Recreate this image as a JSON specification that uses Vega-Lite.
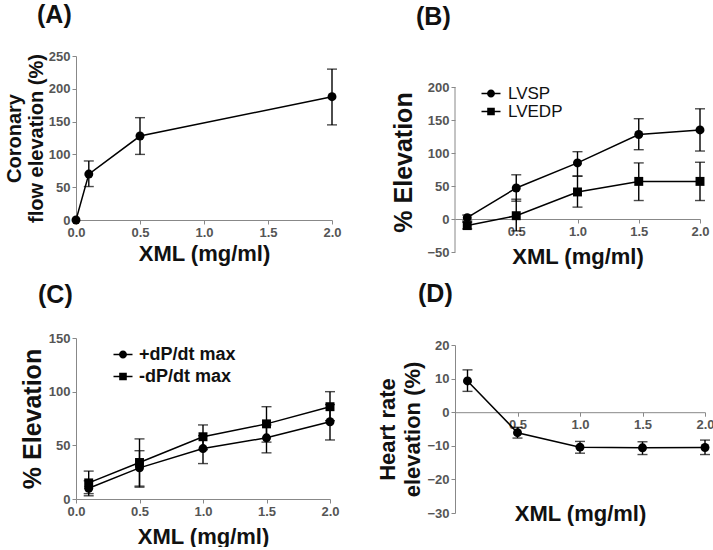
{
  "$schema": "https://vega.github.io/schema/vega-lite/v6.json",
  "padding": {"left": 4, "top": 3, "right": 0, "bottom": 0},
  "background": "white",
  "datasets": {
    "A": [
      {"series": "Flow", "x": 0, "y": 0, "lo": null, "hi": null},
      {"series": "Flow", "x": 0.1, "y": 70, "lo": 51, "hi": 90},
      {"series": "Flow", "x": 0.5, "y": 128, "lo": 100, "hi": 156},
      {"series": "Flow", "x": 2.0, "y": 188, "lo": 145, "hi": 230}
    ],
    "B": [
      {"series": "LVSP", "x": 0.1, "y": 2, "lo": -3, "hi": 6},
      {"series": "LVSP", "x": 0.5, "y": 47, "lo": 27, "hi": 67},
      {"series": "LVSP", "x": 1.0, "y": 85, "lo": 65, "hi": 102},
      {"series": "LVSP", "x": 1.5, "y": 128, "lo": 105, "hi": 152},
      {"series": "LVSP", "x": 2.0, "y": 135, "lo": 103, "hi": 167},
      {"series": "LVEDP", "x": 0.1, "y": -10, "lo": -15, "hi": -5},
      {"series": "LVEDP", "x": 0.5, "y": 5, "lo": -18, "hi": 30},
      {"series": "LVEDP", "x": 1.0, "y": 41, "lo": 18, "hi": 65},
      {"series": "LVEDP", "x": 1.5, "y": 57, "lo": 28, "hi": 85},
      {"series": "LVEDP", "x": 2.0, "y": 57, "lo": 28, "hi": 86}
    ],
    "C": [
      {"series": "+dP/dt max", "x": 0.1, "y": 10, "lo": 3, "hi": 17},
      {"series": "+dP/dt max", "x": 0.5, "y": 29, "lo": 12, "hi": 45},
      {"series": "+dP/dt max", "x": 1.0, "y": 47, "lo": 33, "hi": 59},
      {"series": "+dP/dt max", "x": 1.5, "y": 57, "lo": 43, "hi": 69},
      {"series": "+dP/dt max", "x": 2.0, "y": 72, "lo": 55, "hi": 88},
      {"series": "-dP/dt max", "x": 0.1, "y": 15, "lo": 5, "hi": 26},
      {"series": "-dP/dt max", "x": 0.5, "y": 34, "lo": 11, "hi": 56},
      {"series": "-dP/dt max", "x": 1.0, "y": 58, "lo": 46, "hi": 69},
      {"series": "-dP/dt max", "x": 1.5, "y": 70, "lo": 53, "hi": 86},
      {"series": "-dP/dt max", "x": 2.0, "y": 86, "lo": 73, "hi": 100}
    ],
    "D": [
      {"series": "HR", "x": 0.1, "y": 9.3, "lo": 6.2, "hi": 12.6},
      {"series": "HR", "x": 0.5, "y": -6.1, "lo": -7.7, "hi": -4.5},
      {"series": "HR", "x": 1.0, "y": -10.4, "lo": -12.2, "hi": -8.7},
      {"series": "HR", "x": 1.5, "y": -10.6, "lo": -12.6, "hi": -8.8},
      {"series": "HR", "x": 2.0, "y": -10.5, "lo": -12.6, "hi": -8.3}
    ]
  },
  "bounds": "full",
  "spacing": 34,
  "resolve": {"scale": {"shape": "independent"}, "legend": {"shape": "independent"}},
  "hconcat": [
    {
      "spacing": 19,
      "bounds": "full",
      "resolve": {"scale": {"shape": "independent"}, "legend": {"shape": "independent"}},
      "vconcat": [
        {
          "width": 256, "height": 164,
          "title": {"text": "(A)", "anchor": "start", "frame": "group", "dx": -39, "offset": -3, "baseline": "bottom", "fontSize": 25, "fontWeight": "bold", "font": "Liberation Sans", "color": "#111"},
          "data": {"name": "A"},
          "layer": [
            {
              "mark": {"type": "line", "color": "black", "strokeWidth": 1.5},
              "encoding": {
                "x": {"field": "x", "type": "quantitative", "scale": {"domain": [0, 2], "nice": false},
                      "axis": {"values": [0, 0.5, 1, 1.5, 2], "tickCount": 20, "format": ".1f", "labelOverlap": false, "title": "XML (mg/ml)", "titleFontSize": 22, "titlePadding": 4}},
                "y": {"field": "y", "type": "quantitative", "scale": {"domain": [0, 250], "nice": false},
                      "axis": {"values": [0, 50, 100, 150, 200, 250], "tickCount": 20, "labelOverlap": false, "title": ["Coronary", "flow elevation (%)"], "titleFontSize": 20, "titleLineHeight": 22, "titlePadding": 2}}
              }
            },
            {
              "transform": [{"filter": "isValid(datum.hi)"}],
              "mark": {"type": "errorbar", "color": "black", "ticks": {"size": 10, "thickness": 1.4}, "rule": {"strokeWidth": 1.4}},
              "encoding": {
                "x": {"field": "x", "type": "quantitative", "title": "XML (mg/ml)"},
                "y": {"field": "lo", "type": "quantitative", "title": ["Coronary", "flow elevation (%)"]},
                "y2": {"field": "hi"}
              }
            },
            {
              "mark": {"type": "point", "filled": true, "color": "black", "opacity": 1, "size": 80, "shape": "circle"},
              "encoding": {
                "x": {"field": "x", "type": "quantitative", "title": "XML (mg/ml)"},
                "y": {"field": "y", "type": "quantitative", "title": ["Coronary", "flow elevation (%)"]}
              }
            }
          ]
        },
        {
          "width": 254, "height": 161,
          "title": {"text": "(C)", "anchor": "start", "frame": "group", "dx": -38, "offset": -1, "baseline": "bottom", "fontSize": 25, "fontWeight": "bold", "font": "Liberation Sans", "color": "#111"},
          "data": {"name": "C"},
          "layer": [
            {
              "mark": {"type": "line", "color": "black", "strokeWidth": 1.5},
              "encoding": {
                "x": {"field": "x", "type": "quantitative", "scale": {"domain": [0, 2], "nice": false},
                      "axis": {"values": [0, 0.5, 1, 1.5, 2], "tickCount": 20, "format": ".1f", "labelOverlap": false, "title": "XML (mg/ml)", "titleFontSize": 22, "titlePadding": 8}},
                "y": {"field": "y", "type": "quantitative", "scale": {"domain": [0, 150], "nice": false},
                      "axis": {"values": [0, 50, 100, 150], "tickCount": 20, "labelOverlap": false, "title": "% Elevation", "titleFontSize": 25, "titlePadding": 3}},
                "detail": {"field": "series"}
              }
            },
            {
              "mark": {"type": "errorbar", "color": "black", "ticks": {"size": 10, "thickness": 1.4}, "rule": {"strokeWidth": 1.4}},
              "encoding": {
                "x": {"field": "x", "type": "quantitative", "title": "XML (mg/ml)"},
                "y": {"field": "lo", "type": "quantitative", "title": "% Elevation"},
                "y2": {"field": "hi"},
                "detail": {"field": "series"}
              }
            },
            {
              "transform": [{"filter": "datum.series == '+dP/dt max'"}],
              "mark": {"type": "point", "filled": true, "color": "black", "opacity": 1, "size": 80, "shape": "circle"},
              "encoding": {
                "x": {"field": "x", "type": "quantitative", "title": "XML (mg/ml)"},
                "y": {"field": "y", "type": "quantitative", "title": "% Elevation"}
              }
            },
            {
              "transform": [{"filter": "datum.series == '-dP/dt max'"}],
              "mark": {"type": "point", "filled": true, "color": "black", "opacity": 1, "size": 80, "shape": "square"},
              "encoding": {
                "x": {"field": "x", "type": "quantitative", "title": "XML (mg/ml)"},
                "y": {"field": "y", "type": "quantitative", "title": "% Elevation"}
              }
            },
            {
              "transform": [{"filter": "datum.x < -100"}],
              "mark": {"type": "point", "fill": "black", "stroke": "black", "strokeWidth": 0.5, "opacity": 1, "size": 361},
              "encoding": {
                "x": {"field": "x", "type": "quantitative", "title": "XML (mg/ml)"},
                "y": {"field": "y", "type": "quantitative", "title": "% Elevation"},
                "shape": {"field": "series", "type": "nominal",
                  "scale": {"domain": ["+dP/dt max", "-dP/dt max"], "range": ["M-1,-0.08L1,-0.08L1,0.08L-1,0.08Z M-0.42,0A0.42,0.42,0,1,1,0.42,0A0.42,0.42,0,1,1,-0.42,0Z", "M-1,-0.08L1,-0.08L1,0.08L-1,0.08Z M-0.4,-0.4L0.4,-0.4L0.4,0.4L-0.4,0.4Z"]},
                  "legend": {"orient": "none", "legendX": 37, "legendY": 6.5, "title": null, "padding": 0, "rowPadding": 3, "labelOffset": 6, "labelFontSize": 18, "labelFont": "Liberation Sans", "labelFontWeight": "bold", "labelColor": "#111", "symbolSize": 361, "symbolFillColor": "black", "symbolStrokeColor": "black", "symbolStrokeWidth": 0.5, "symbolOpacity": 1}}
              }
            }
          ]
        }
      ]
    },
    {
      "spacing": 15,
      "bounds": "full",
      "resolve": {"scale": {"shape": "independent"}, "legend": {"shape": "independent"}},
      "vconcat": [
        {
          "width": 245, "height": 196,
          "title": {"text": "(B)", "anchor": "start", "frame": "group", "dx": -39, "offset": 1, "baseline": "bottom", "fontSize": 25, "fontWeight": "bold", "font": "Liberation Sans", "color": "#111"},
          "data": {"name": "B"},
          "layer": [
            {
              "mark": {"type": "line", "color": "black", "strokeWidth": 1.5},
              "encoding": {
                "x": {"field": "x", "type": "quantitative", "scale": {"domain": [0, 2], "nice": false},
                      "axis": {"values": [0.5, 1, 1.5, 2], "tickCount": 20, "format": ".1f", "labelOverlap": false, "title": "XML (mg/ml)", "titleFontSize": 22, "offset": -33, "titlePadding": 8}},
                "y": {"field": "y", "type": "quantitative", "scale": {"domain": [-50, 247], "nice": false},
                      "axis": {"values": [-50, 0, 50, 100, 150, 200], "tickCount": 20, "labelOverlap": false, "domain": false, "title": "% Elevation", "titleFontSize": 25, "titlePadding": 10, "titleY": 106}},
                "detail": {"field": "series"}
              }
            },
            {
              "data": {"values": [{"a": 1}]},
              "mark": {"type": "rule", "color": "#888", "strokeWidth": 1},
              "encoding": {
                "x": {"datum": 0, "type": "quantitative"},
                "y": {"datum": -50, "type": "quantitative"},
                "y2": {"datum": 200}
              }
            },
            {
              "mark": {"type": "errorbar", "color": "black", "ticks": {"size": 10, "thickness": 1.4}, "rule": {"strokeWidth": 1.4}},
              "encoding": {
                "x": {"field": "x", "type": "quantitative", "title": "XML (mg/ml)"},
                "y": {"field": "lo", "type": "quantitative", "title": "% Elevation"},
                "y2": {"field": "hi"},
                "detail": {"field": "series"}
              }
            },
            {
              "transform": [{"filter": "datum.series == 'LVSP'"}],
              "mark": {"type": "point", "filled": true, "color": "black", "opacity": 1, "size": 80, "shape": "circle"},
              "encoding": {
                "x": {"field": "x", "type": "quantitative", "title": "XML (mg/ml)"},
                "y": {"field": "y", "type": "quantitative", "title": "% Elevation"}
              }
            },
            {
              "transform": [{"filter": "datum.series == 'LVEDP'"}],
              "mark": {"type": "point", "filled": true, "color": "black", "opacity": 1, "size": 80, "shape": "square"},
              "encoding": {
                "x": {"field": "x", "type": "quantitative", "title": "XML (mg/ml)"},
                "y": {"field": "y", "type": "quantitative", "title": "% Elevation"}
              }
            },
            {
              "transform": [{"filter": "datum.x < -100"}],
              "mark": {"type": "point", "fill": "black", "stroke": "black", "strokeWidth": 0.5, "opacity": 1, "size": 361},
              "encoding": {
                "x": {"field": "x", "type": "quantitative", "title": "XML (mg/ml)"},
                "y": {"field": "y", "type": "quantitative", "title": "% Elevation"},
                "shape": {"field": "series", "type": "nominal",
                  "scale": {"domain": ["LVSP", "LVEDP"], "range": ["M-1,-0.08L1,-0.08L1,0.08L-1,0.08Z M-0.42,0A0.42,0.42,0,1,1,0.42,0A0.42,0.42,0,1,1,-0.42,0Z", "M-1,-0.08L1,-0.08L1,0.08L-1,0.08Z M-0.4,-0.4L0.4,-0.4L0.4,0.4L-0.4,0.4Z"]},
                  "legend": {"orient": "none", "legendX": 26, "legendY": 27.5, "title": null, "padding": 0, "rowPadding": 0, "labelOffset": 7, "labelFontSize": 17, "labelFont": "Liberation Sans", "labelFontWeight": "normal", "labelColor": "#111", "symbolSize": 361, "symbolFillColor": "black", "symbolStrokeColor": "black", "symbolStrokeWidth": 0.5, "symbolOpacity": 1}}
              }
            }
          ]
        },
        {
          "width": 250, "height": 168,
          "title": {"text": "(D)", "anchor": "start", "frame": "group", "dx": -37, "offset": 7, "baseline": "bottom", "fontSize": 25, "fontWeight": "bold", "font": "Liberation Sans", "color": "#111"},
          "data": {"name": "D"},
          "layer": [
            {
              "mark": {"type": "line", "color": "black", "strokeWidth": 1.5},
              "encoding": {
                "x": {"field": "x", "type": "quantitative", "scale": {"domain": [0, 2], "nice": false},
                      "axis": {"values": [0.5, 1, 1.5, 2], "tickCount": 20, "format": ".1f", "labelOverlap": false, "title": "XML (mg/ml)", "titleFontSize": 22, "offset": -100.8, "titlePadding": 72}},
                "y": {"field": "y", "type": "quantitative", "scale": {"domain": [-30, 20], "nice": false},
                      "axis": {"values": [-30, -20, -10, 0, 10, 20], "tickCount": 20, "labelOverlap": false, "title": ["Heart rate", "elevation (%)"], "titleFontSize": 22, "titleLineHeight": 25, "titlePadding": 2}}
              }
            },
            {
              "mark": {"type": "errorbar", "color": "black", "ticks": {"size": 10, "thickness": 1.4}, "rule": {"strokeWidth": 1.4}},
              "encoding": {
                "x": {"field": "x", "type": "quantitative", "title": "XML (mg/ml)"},
                "y": {"field": "lo", "type": "quantitative", "title": ["Heart rate", "elevation (%)"]},
                "y2": {"field": "hi"}
              }
            },
            {
              "mark": {"type": "point", "filled": true, "color": "black", "opacity": 1, "size": 80, "shape": "circle"},
              "encoding": {
                "x": {"field": "x", "type": "quantitative", "title": "XML (mg/ml)"},
                "y": {"field": "y", "type": "quantitative", "title": ["Heart rate", "elevation (%)"]}
              }
            }
          ]
        }
      ]
    }
  ],
  "config": {
    "view": {"stroke": null},
    "font": "Liberation Sans",
    "axis": {
      "grid": false,
      "labelFont": "Liberation Sans",
      "labelFontWeight": "bold",
      "labelFontSize": 13,
      "labelColor": "#555",
      "labelPadding": 2,
      "labelFlush": false,
      "titleFont": "Liberation Sans",
      "titleFontWeight": "bold",
      "titleColor": "#111",
      "domainColor": "#888",
      "tickColor": "#888",
      "tickSize": 4
    }
  }
}
